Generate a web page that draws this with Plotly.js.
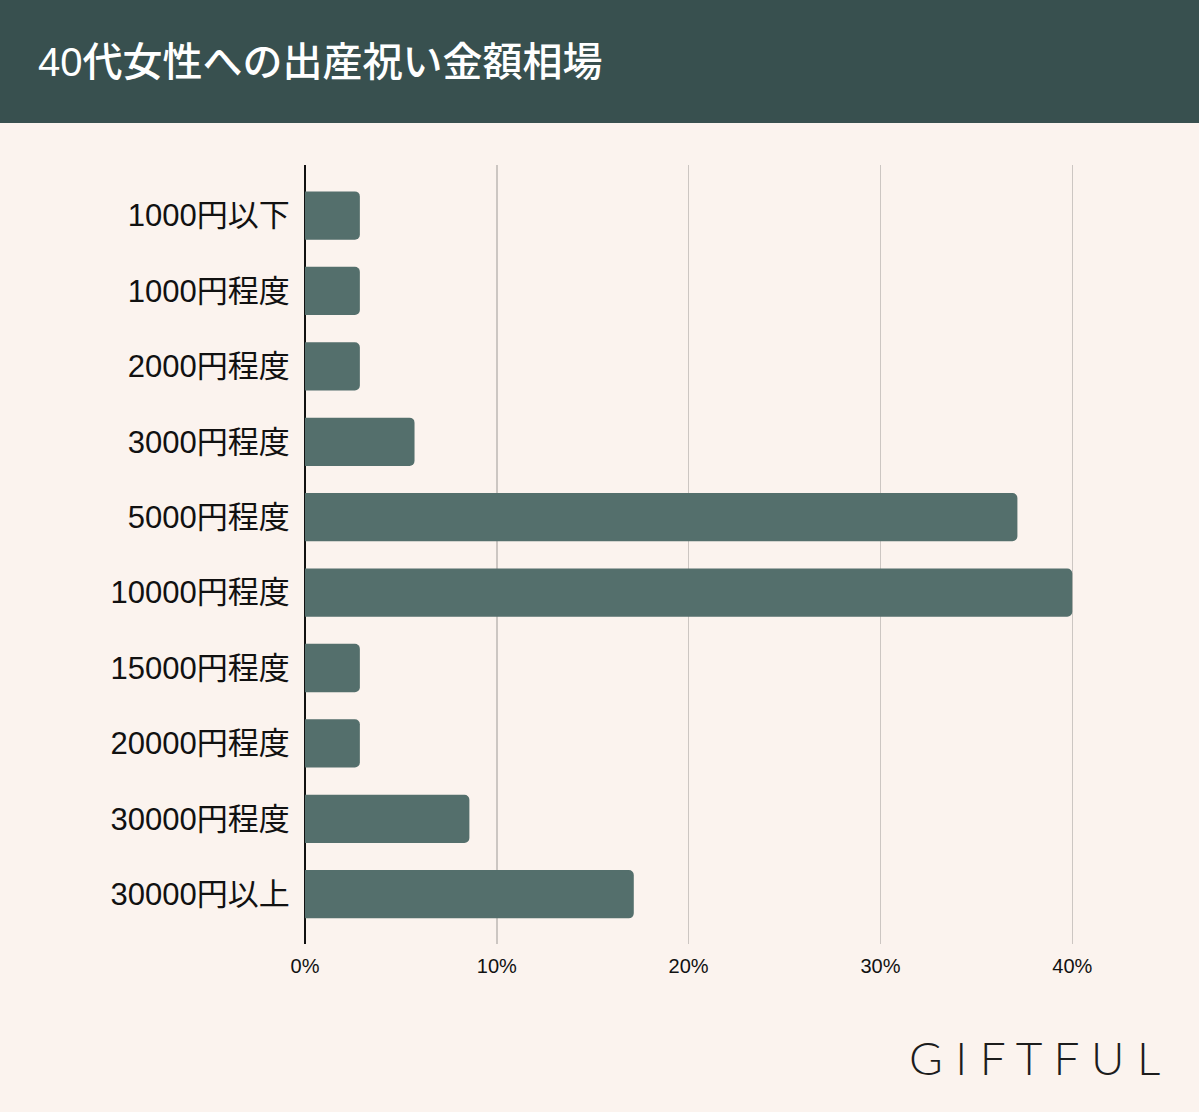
<!DOCTYPE html>
<html>
<head>
<meta charset="utf-8">
<script src="https://cdn.plot.ly/plotly-3.0.1.min.js"></script>
<style>
  html, body { margin: 0; padding: 0; background: #fbf3ee; }
  #chart { width: 1199px; height: 1112px; }
</style>
</head>
<body>
<div id="chart"></div>
<script>
// Data (share of respondents, %; multiple answers allowed)
const categories = [
  "1000円以下", "1000円程度", "2000円程度", "3000円程度", "5000円程度",
  "10000円程度", "15000円程度", "20000円程度", "30000円程度", "30000円以上"
];
const values = [2.86, 2.86, 2.86, 5.71, 37.14, 40.0, 2.86, 2.86, 8.57, 17.14];
const tickValues = [0, 10, 20, 30, 40];
const tickLabels = ["0%", "10%", "20%", "30%", "40%"];
const titleText = "40代女性への出産祝い金額相場";
const brandText = "G I F T F U L";

const W = 1199, H = 1112;
const mL = 305, mR = 50, mT = 165, mB = 168;
const plotW = W - mL - mR, plotH = H - mT - mB;
const headerH = 123;

const trace = {
  type: "bar",
  orientation: "h",
  x: values,
  y: categories,
  width: 0.64,
  marker: { color: "#546f6c", line: { width: 0 } },
  hoverinfo: "skip"
};

const layout = {
  width: W, height: H,
  margin: { l: mL, r: mR, t: mT, b: mB, pad: 0 },
  paper_bgcolor: "#fbf3ee",
  plot_bgcolor: "#fbf3ee",
  showlegend: false,
  barcornerradius: 5,
  font: { family: "Liberation Sans, Arial, 'Noto Sans CJK JP', sans-serif", color: "#111" },
  title: {
    text: titleText,
    font: { family: "'Liberation Sans', 'Noto Sans CJK JP', sans-serif", size: 40, color: "#ffffff", weight: 500 },
    xref: "container", yref: "container",
    x: 38 / W, xanchor: "left",
    y: 1 - 62 / H, yanchor: "middle"
  },
  xaxis: {
    range: [0, 44],
    tickvals: tickValues,
    ticktext: tickLabels,
    showgrid: true,
    gridcolor: "#ccc6c2",
    gridwidth: 1.5,
    zeroline: true,
    zerolinecolor: "#111111",
    zerolinewidth: 2,
    showline: false,
    ticks: "outside",
    ticklen: 4,
    tickcolor: "rgba(0,0,0,0)",
    tickfont: { size: 20, color: "#111" },
    fixedrange: true
  },
  yaxis: {
    type: "category",
    categoryorder: "array",
    categoryarray: categories,
    range: [9.66, -0.67],
    showgrid: false,
    zeroline: false,
    showline: false,
    ticks: "outside",
    ticklen: 8,
    tickcolor: "rgba(0,0,0,0)",
    tickfont: { size: 31, color: "#111" },
    fixedrange: true
  },
  shapes: [{
    type: "rect",
    xref: "paper", yref: "paper",
    x0: -mL / plotW - 0.01, x1: 1 + mR / plotW + 0.01,
    y0: 1 + (mT - headerH) / plotH, y1: 1 + mT / plotH + 0.01,
    fillcolor: "#38504f",
    line: { width: 0 },
    layer: "above"
  }],
  annotations: [{
    text: brandText,
    xref: "paper", yref: "paper",
    x: 1 + (1162 - (W - mR)) / plotW, xanchor: "right",
    y: -(1057 - (H - mB)) / plotH, yanchor: "middle",
    showarrow: false,
    font: { family: "Lato, 'DejaVu Sans', sans-serif", size: 46, color: "#1c1c1c", weight: 300 }
  }]
};

Plotly.newPlot("chart", [trace], layout, { displayModeBar: false, staticPlot: true });
</script>
</body>
</html>
